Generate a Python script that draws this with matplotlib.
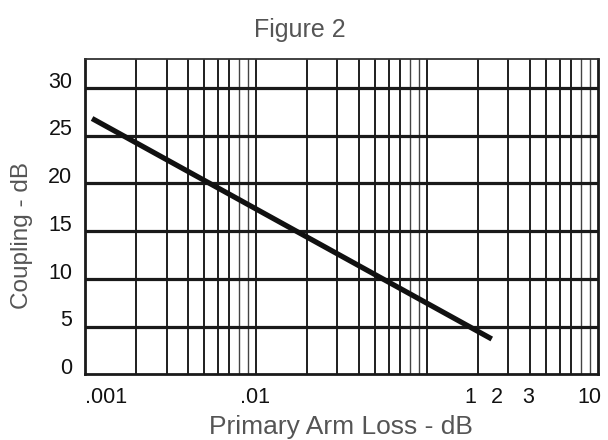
import matplotlib
matplotlib.use('Agg')
import matplotlib.pyplot as plt
from matplotlib.transforms import ScaledTranslation

# coupling line (as drawn on the original log paper)
loss_db = [0.0011, 0.24]
coupling_db = [26.8, 3.7]

# tick labels as printed on the original (positions)
x_tick_pos = [0.00133, 0.0099, 0.179, 0.258, 0.391, 0.90]
x_tick_labels = ['.001', '.01', '1', '2', '3', '10']
y_ticks = [0, 5, 10, 15, 20, 25, 30]

plt.rcParams['font.family'] = ['Liberation Sans', 'DejaVu Sans']

fig = plt.figure(figsize=(6.08, 4.40), dpi=100)
ax = fig.add_axes([0.1398, 0.1493, 0.8432, 0.7159])
ax.set_xscale('log')
ax.set_xlim(0.001, 1)
ax.set_ylim(0, 33)

# log-paper grid
for e in (-3, -2, -1):
    for k in range(2, 11):
        v = k * 10.0 ** e
        if v >= 1:
            continue
        lw = 1.0 if k in (8, 9) else 1.4
        col = '#444444' if k in (8, 9) else '#1e1e1e'
        ax.axvline(v, color=col, lw=lw, zorder=1)
for y in y_ticks[1:]:
    ax.axhline(y, color='#1a1a1a', lw=2.3, zorder=1)

ax.plot(loss_db, coupling_db, color='#111111', lw=3.8, solid_capstyle='butt', zorder=3)

for side in ['left', 'bottom', 'right']:
    ax.spines[side].set_linewidth(2.0)
    ax.spines[side].set_color('#1a1a1a')
ax.spines['top'].set_linewidth(1.3)
ax.spines['top'].set_color('#333333')

ax.set_xticks(x_tick_pos)
ax.set_xticklabels(x_tick_labels)
ax.xaxis.set_minor_locator(plt.NullLocator())
ax.set_yticks(y_ticks)
ax.set_yticklabels([str(v) for v in y_ticks])
ax.tick_params(axis='both', length=0, labelsize=15.5, labelcolor='#111111')
ax.tick_params(axis='x', pad=9)
ax.tick_params(axis='y', pad=9)
for lab in ax.get_yticklabels():
    lab.set_transform(lab.get_transform() + ScaledTranslation(0, 6 / 72, fig.dpi_scale_trans))

ax.set_xlabel('Primary Arm Loss - dB', fontsize=19, color='#555555', labelpad=5)
ax.set_ylabel('Coupling - dB', fontsize=17.5, color='#555555')
ax.yaxis.set_label_coords(-0.102, 0.442)
fig.text(300 / 608, 1 - 30 / 440, 'Figure 2', fontsize=18, color='#555555',
         ha='center', va='center')

fig.savefig('out.png', dpi=100)
